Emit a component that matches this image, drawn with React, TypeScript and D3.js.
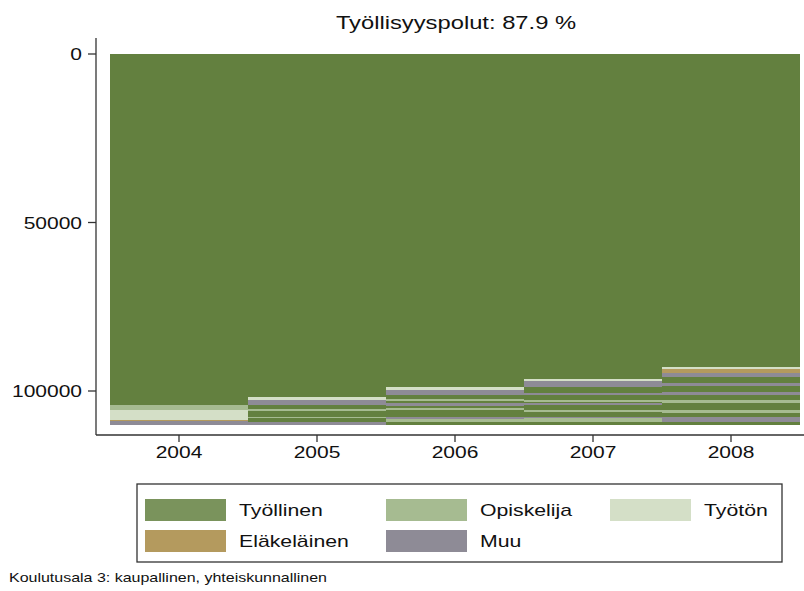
import * as React from "react";
import * as d3 from "d3";

const years = [2004, 2005, 2006, 2007, 2008];
const states = ["Työllinen", "Opiskelija", "Työtön", "Eläkeläinen", "Muu"];
const stateColors = ["#63803f", "#a6bb91", "#d4dfc7", "#b49a5e", "#8e8b96"];
const yTicks = [0, 50000, 100000];

// state index + persons, from the top of each column down
const seq2004 = [[0, 104150], [1, 1500], [2, 3000], [3, 300], [4, 1200]];
const seq2005 = [
  [0, 101768], [2, 890], [4, 1484], [0, 1187], [1, 504], [0, 1780],
  [1, 475], [0, 1187], [4, 860],
];
const seq2006 = [
  [0, 98890], [2, 800], [4, 1484], [0, 1187], [1, 593], [0, 682], [4, 800],
  [0, 682], [1, 505], [0, 1988], [4, 680], [1, 800], [0, 980],
];
const seq2007 = [
  [0, 96517], [2, 504], [4, 1691], [0, 1780], [4, 682], [0, 1484], [1, 504],
  [0, 475], [4, 504], [0, 1484], [1, 504], [0, 1484], [4, 534], [1, 950],
  [0, 920],
];
const seq2008 = [
  [0, 92778], [2, 830], [3, 1130], [4, 1010], [0, 1960], [4, 800], [0, 1690],
  [4, 980], [0, 1484], [1, 980], [0, 1990], [1, 980], [0, 1010], [4, 1484],
  [0, 920],
];
const sequences = [seq2004, seq2005, seq2006, seq2007, seq2008];

const FONT = "'Liberation Sans', Arial, sans-serif";
const SX = 1.25; // the source image is stretched horizontally

function Txt({ x, y, size, anchor = "start", children }: any) {
  return (
    <text
      transform={`translate(${x},${y}) scale(${SX},1)`}
      fontSize={size}
      fontFamily={FONT}
      textAnchor={anchor}
      fill="#111"
    >
      {children}
    </text>
  );
}

export default function App() {
  const x = d3.scaleBand<number>().domain(years).range([110, 800]).padding(0);
  const y = d3.scaleLinear().domain([0, 100000]).range([54, 391]);
  const axisY = 435;

  const legendCols = [145, 386, 610];
  const legendRows = [499, 530];

  return (
    <svg
      width={804}
      height={591}
      style={{ position: "absolute", left: 0, top: 0, background: "#fff" }}
    >
      <Txt x={456} y={29} size={19} anchor="middle">
        Työllisyyspolut: 87.9 %
      </Txt>

      {/* sequence columns */}
      {sequences.map((seq, i) => {
        const ends = d3.cumsum(seq.map((d) => d[1]));
        return (
          <g key={years[i]}>
            {seq.map((d, j) => {
              const start = ends[j] - d[1];
              return (
                <rect
                  key={j}
                  x={x(years[i])}
                  width={x.bandwidth()}
                  y={y(start)}
                  height={y(ends[j]) - y(start)}
                  fill={stateColors[d[0]]}
                  shapeRendering="crispEdges"
                />
              );
            })}
          </g>
        );
      })}

      {/* y axis */}
      <line x1={96} x2={96} y1={38} y2={axisY} stroke="#333" strokeWidth={1.3} />
      {yTicks.map((t) => (
        <g key={t}>
          <line x1={88} x2={96} y1={y(t)} y2={y(t)} stroke="#333" strokeWidth={1.3} />
          <Txt x={82} y={y(t) + 6} size={16.8} anchor="end">
            {t}
          </Txt>
        </g>
      ))}

      {/* x axis */}
      <line x1={96} x2={804} y1={axisY} y2={axisY} stroke="#333" strokeWidth={1.3} />
      {years.map((yr) => {
        const cx = (x(yr) as number) + x.bandwidth() / 2;
        return (
          <g key={yr}>
            <line x1={cx} x2={cx} y1={axisY} y2={axisY + 7} stroke="#333" strokeWidth={1.3} />
            <Txt x={cx} y={axisY + 23} size={16.8} anchor="middle">
              {yr}
            </Txt>
          </g>
        );
      })}

      {/* legend */}
      <rect x={137} y={484} width={645} height={78} fill="#fff" stroke="#333" strokeWidth={1.3} />
      {states.map((s, i) => {
        const cx = legendCols[i % 3];
        const cy = legendRows[Math.floor(i / 3)];
        return (
          <g key={s}>
            <rect x={cx} y={cy} width={81} height={22} fill={stateColors[i]} opacity={i === 0 ? 0.85 : 1} />
            <Txt x={cx + 94} y={cy + 17} size={17}>
              {s}
            </Txt>
          </g>
        );
      })}

      <Txt x={9} y={582} size={12.8}>
        Koulutusala 3: kaupallinen, yhteiskunnallinen
      </Txt>
    </svg>
  );
}
